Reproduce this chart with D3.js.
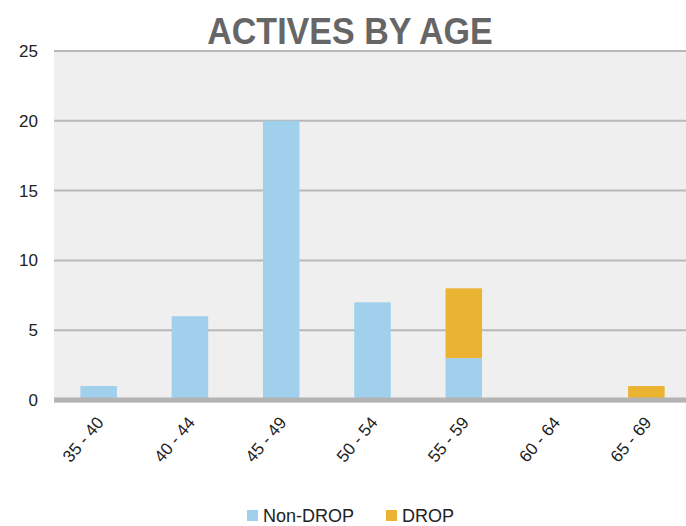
<!DOCTYPE html>
<html>
<head>
    <title>Actives by Age</title>
    <style>
        body { margin: 0; background: #fff; }
        text { font-family: "Liberation Sans", Arial, sans-serif; }
    </style>
    <script src="https://d3js.org/d3.v7.min.js"></script>
</head>
<body>
<svg id="chart"></svg>
<script>
    // Chart data
    const ageGroups = ['35 - 40', '40 - 44', '45 - 49', '50 - 54', '55 - 59', '60 - 64', '65 - 69'];
    const nonDrop = [1, 6, 20, 7, 3, 0, 0];
    const drop = [0, 0, 0, 0, 5, 0, 1];
    const seriesNames = ['Non-DROP', 'DROP'];
    const yTicks = [0, 5, 10, 15, 20, 25];

    const COLORS = {
        'Non-DROP': '#a0d0ec',
        'DROP': '#ebb332'
    };

    const width = 686;
    const height = 526;
    const plot = {left: 54, right: 686, top: 51, bottom: 400};

    const svg = d3.select('#chart')
        .attr('width', width)
        .attr('height', height);

    const x = d3.scaleBand()
        .domain(ageGroups)
        .range([53, 692])
        .paddingInner(0.6)
        .paddingOuter(0.3);

    const y = d3.scaleLinear()
        .domain([0, 25])
        .range([plot.bottom, plot.top]);

    // Plot background
    svg.append('rect')
        .attr('x', plot.left)
        .attr('y', plot.top)
        .attr('width', plot.right - plot.left)
        .attr('height', plot.bottom - plot.top + 3)
        .attr('fill', '#efefef');

    // Gridlines
    svg.append('g')
        .selectAll('line')
        .data(yTicks.filter(t => t > 0))
        .join('line')
        .attr('x1', plot.left)
        .attr('x2', plot.right)
        .attr('y1', d => y(d))
        .attr('y2', d => y(d))
        .attr('stroke', '#b8b8b8')
        .attr('stroke-width', 2);

    // Stacked bars
    const rows = ageGroups.map((g, i) => ({group: g, 'Non-DROP': nonDrop[i], 'DROP': drop[i]}));
    const stacked = d3.stack().keys(seriesNames)(rows);

    svg.append('g')
        .selectAll('g')
        .data(stacked)
        .join('g')
        .attr('fill', d => COLORS[d.key])
        .selectAll('rect')
        .data(d => d.filter(p => p[1] > p[0]))
        .join('rect')
        .attr('x', d => x(d.data.group))
        .attr('y', d => y(d[1]))
        .attr('width', x.bandwidth())
        .attr('height', d => y(d[0]) - y(d[1]));

    // Zero axis line
    svg.append('line')
        .attr('x1', plot.left)
        .attr('x2', plot.right)
        .attr('y1', y(0))
        .attr('y2', y(0))
        .attr('stroke', '#b3b3b3')
        .attr('stroke-width', 5);

    // Y axis labels
    const yAxis = svg.append('g')
        .attr('transform', `translate(38,0)`)
        .call(d3.axisLeft(y).tickValues(yTicks).tickSize(0).tickPadding(0));
    yAxis.select('.domain').remove();
    yAxis.selectAll('text')
        .attr('font-size', 17)
        .attr('fill', '#222');

    // X axis labels, rotated
    const xAxis = svg.append('g')
        .attr('transform', `translate(0,${plot.bottom})`)
        .call(d3.axisBottom(x).tickSize(0).tickPadding(0));
    xAxis.select('.domain').remove();
    xAxis.selectAll('text')
        .attr('font-size', 17)
        .attr('fill', '#222')
        .attr('text-anchor', 'end')
        .attr('dy', 0)
        .attr('transform', 'translate(6,23) rotate(-50)');

    // Title
    svg.append('text')
        .attr('transform', 'translate(350,44) scale(0.92,1)')
        .attr('text-anchor', 'middle')
        .attr('font-size', 37)
        .attr('font-weight', 'bold')
        .attr('fill', '#666')
        .text('ACTIVES BY AGE');

    // Legend
    const legendPos = [247, 386];
    const legend = svg.append('g')
        .selectAll('g')
        .data(seriesNames)
        .join('g')
        .attr('transform', (d, i) => `translate(${legendPos[i]},510)`);
    legend.append('rect')
        .attr('width', 11)
        .attr('height', 11)
        .attr('fill', d => COLORS[d]);
    legend.append('text')
        .attr('x', 16)
        .attr('y', 12)
        .attr('font-size', 18)
        .attr('fill', '#222')
        .text(d => d);
</script>
</body>
</html>
